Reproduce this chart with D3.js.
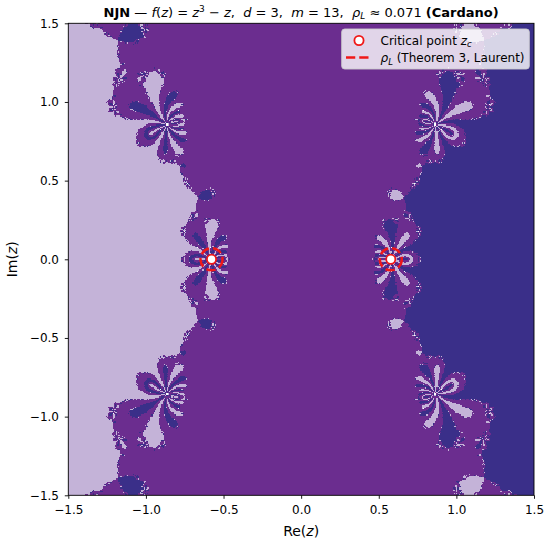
<!DOCTYPE html>
<html>
<head>
<meta charset="utf-8">
<script src="https://cdn.jsdelivr.net/npm/d3@7/dist/d3.min.js"></script>
<style>
  html, body { margin: 0; padding: 0; background: #ffffff; }
  svg { display: block; }
  text { font-family: "DejaVu Sans", sans-serif; }
</style>
</head>
<body>
<svg id="chart" width="550" height="541"></svg>
<script>
// ---------------- data ----------------
const domainRe = [-1.5, 1.5];
const domainIm = [-1.5, 1.5];
const roots = [[-1, 0], [0, 0], [1, 0]];              // zeros of f(z) = z^3 - z
const rootColors = ["#c4b3d8", "#6b2d8f", "#3a2f89"]; // basin colours
const noConvergenceColor = "#ffffff";
const criticalPoints = [[-0.57735, 0], [0.57735, 0]]; // z_c : f'(z_c) = 0
const rhoL = 0.071;                                   // Laurent radius
const derivBlend = 0.93;                              // weight of f'(y) in the last sub-step
const xTicks = [-1.5, -1.0, -0.5, 0.0, 0.5, 1.0, 1.5];
const yTicks = [-1.5, -1.0, -0.5, 0.0, 0.5, 1.0, 1.5];
const gridSize = 420;
const maxIter = 40;
const tol = 1e-6;
const legendLabels = ["Critical point ", "(Theorem 3, Laurent)"];

// ---------------- layout ----------------
const plot = { left: 68.3, right: 534, top: 23.3, bottom: 495.3 };
const svg = d3.select("#chart");
const x = d3.scaleLinear().domain(domainRe).range([plot.left, plot.right]);
const y = d3.scaleLinear().domain(domainIm).range([plot.bottom, plot.top]);

// ---------------- basin computation (three sub-steps) ----------------
function fEval(r, i) {
  const r2 = r * r - i * i, i2 = 2 * r * i;
  return [r2 * r - i2 * i - r, r2 * i + i2 * r - i];
}
function basin(zr, zi) {
  for (let k = 0; k < maxIter; k++) {
    const r2 = zr * zr - zi * zi, i2 = 2 * zr * zi;
    const dr = 3 * r2 - 1, di = 3 * i2;
    const den = dr * dr + di * di;
    if (!(den > 0)) return -1;
    let f = fEval(zr, zi);
    const yr = zr - (f[0] * dr + f[1] * di) / den;
    const yi = zi - (f[1] * dr - f[0] * di) / den;
    f = fEval(yr, yi);
    const wr = yr - (f[0] * dr + f[1] * di) / den;
    const wi = yi - (f[1] * dr - f[0] * di) / den;
    // blended derivative for the last sub-step
    const yr2 = yr * yr - yi * yi, yi2 = 2 * yr * yi;
    const er = (1 - derivBlend) * dr + derivBlend * (3 * yr2 - 1);
    const ei = (1 - derivBlend) * di + derivBlend * (3 * yi2);
    const den2 = er * er + ei * ei;
    if (!(den2 > 0)) return -1;
    f = fEval(wr, wi);
    zr = wr - (f[0] * er + f[1] * ei) / den2;
    zi = wi - (f[1] * er - f[0] * ei) / den2;
    if (!isFinite(zr) || !isFinite(zi)) return -1;
    for (let j = 0; j < roots.length; j++) {
      const ar = zr - roots[j][0], ai = zi - roots[j][1];
      if (ar * ar + ai * ai < tol * tol) return j;
    }
  }
  return -1;
}

const cellRe = d3.scaleLinear().domain([0, gridSize]).range(domainRe);
const cellIm = d3.scaleLinear().domain([0, gridSize]).range([domainIm[1], domainIm[0]]);
const canvas = document.createElement("canvas");
canvas.width = gridSize; canvas.height = gridSize;
const ctx = canvas.getContext("2d");
const img = ctx.createImageData(gridSize, gridSize);
const rgb = rootColors.map(c => d3.rgb(c));
const rgbNC = d3.rgb(noConvergenceColor);
for (let row = 0; row < gridSize; row++) {
  const im = cellIm(row + 0.5);
  for (let col = 0; col < gridSize; col++) {
    const re = cellRe(col + 0.5);
    const b = basin(re, im);
    const c = b >= 0 ? rgb[b] : rgbNC;
    const p = 4 * (row * gridSize + col);
    img.data[p] = c.r; img.data[p + 1] = c.g; img.data[p + 2] = c.b; img.data[p + 3] = 255;
  }
}
ctx.putImageData(img, 0, 0);

svg.append("image")
  .attr("x", x(domainRe[0])).attr("y", y(domainIm[1]))
  .attr("width", x(domainRe[1]) - x(domainRe[0]))
  .attr("height", y(domainIm[0]) - y(domainIm[1]))
  .attr("preserveAspectRatio", "none")
  .style("image-rendering", "pixelated")
  .attr("href", canvas.toDataURL());

// ---------------- critical points & Laurent circles ----------------
const red = "#f01818";
svg.selectAll("circle.rho").data(criticalPoints).join("circle")
  .attr("class", "rho")
  .attr("cx", d => x(d[0])).attr("cy", d => y(d[1]))
  .attr("r", x(rhoL) - x(0))
  .attr("fill", "none").attr("stroke", red).attr("stroke-width", 2.5)
  .attr("stroke-dasharray", "9.25,4");
svg.selectAll("circle.zc").data(criticalPoints).join("circle")
  .attr("class", "zc")
  .attr("cx", d => x(d[0])).attr("cy", d => y(d[1]))
  .attr("r", 4.6)
  .attr("fill", "#ffffff").attr("stroke", red).attr("stroke-width", 1.8);

// ---------------- axes ----------------
const fmt = d3.format(".1f");
const xAxis = svg.append("g").attr("transform", `translate(0,${plot.bottom})`)
  .call(d3.axisBottom(x).tickValues(xTicks).tickFormat(fmt).tickSize(3.5).tickPadding(7).tickSizeOuter(0));
const yAxis = svg.append("g").attr("transform", `translate(${plot.left},0)`)
  .call(d3.axisLeft(y).tickValues(yTicks).tickFormat(fmt).tickSize(3.5).tickPadding(5.8).tickSizeOuter(0));
[xAxis, yAxis].forEach(g => {
  g.select(".domain").remove();
  g.selectAll("text").attr("font-size", 12).attr("font-family", "DejaVu Sans").attr("fill", "#000");
  g.selectAll("line").attr("stroke", "#000").attr("stroke-width", 0.9);
});
svg.append("rect")
  .attr("x", plot.left).attr("y", plot.top)
  .attr("width", plot.right - plot.left).attr("height", plot.bottom - plot.top)
  .attr("fill", "none").attr("stroke", "#000").attr("stroke-width", 0.9);

const xl = svg.append("text").attr("x", (plot.left + plot.right) / 2).attr("y", 535.5)
  .attr("text-anchor", "middle").attr("font-size", 14);
xl.append("tspan").text("Re(");
xl.append("tspan").attr("font-style", "italic").text("z");
xl.append("tspan").text(")");
const yl = svg.append("text").attr("transform", `translate(17,${(plot.top + plot.bottom) / 2}) rotate(-90)`)
  .attr("text-anchor", "middle").attr("font-size", 14);
yl.append("tspan").text("Im(");
yl.append("tspan").attr("font-style", "italic").text("z");
yl.append("tspan").text(")");

// ---------------- title ----------------
const title = svg.append("text").attr("x", (plot.left + plot.right) / 2).attr("y", 16.5)
  .attr("text-anchor", "middle").attr("font-size", 13).style("white-space", "pre");
const parts = [
  ["NJN", "b"], [" \u2014 ", ""], ["f", "i"], ["(", ""], ["z", "i"], [") = ", ""], ["z", "i"], ["3", "sup"],
  [" \u2212 ", "r"], ["z", "i"], [",  ", ""], ["d", "i"], [" = 3,  ", ""], ["m", "i"], [" = 13,  ", ""],
  ["\u03c1", "i"], ["L", "sub"], [" \u2248 0.071 ", "r2"], ["(Cardano)", "b"]
];
parts.forEach(([t, s]) => {
  const ts = title.append("tspan").text(t);
  if (s === "b") ts.attr("font-weight", "bold");
  if (s === "i") ts.attr("font-style", "italic");
  if (s === "sup") ts.attr("font-size", 9).attr("dy", -5);
  if (s === "r") ts.attr("dy", 5);
  if (s === "sub") ts.attr("font-size", 9).attr("font-style", "italic").attr("dy", 2.5);
  if (s === "r2") ts.attr("dy", -2.5);
});

// ---------------- legend ----------------
const lg = svg.append("g");
lg.append("rect").attr("x", 341.7).attr("y", 29).attr("width", 187.6).attr("height", 40)
  .attr("rx", 3).attr("fill", "#ffffff").attr("fill-opacity", 0.8)
  .attr("stroke", "#cccccc").attr("stroke-width", 0.9);
lg.append("circle").attr("cx", 359).attr("cy", 40.5).attr("r", 4.6)
  .attr("fill", "#ffffff").attr("stroke", red).attr("stroke-width", 1.8);
lg.append("line").attr("x1", 346).attr("x2", 372).attr("y1", 57.5).attr("y2", 57.5)
  .attr("stroke", red).attr("stroke-width", 2.5).attr("stroke-dasharray", "9.25,4");
const t1 = lg.append("text").attr("x", 380.5).attr("y", 44.5).attr("font-size", 12).style("white-space", "pre");
t1.append("tspan").text(legendLabels[0]);
t1.append("tspan").attr("font-style", "italic").text("z");
t1.append("tspan").attr("font-style", "italic").attr("font-size", 8.5).attr("dy", 2.5).text("c");
const t2 = lg.append("text").attr("x", 380.5).attr("y", 62).attr("font-size", 12).style("white-space", "pre");
t2.append("tspan").attr("font-style", "italic").text("\u03c1");
t2.append("tspan").attr("font-style", "italic").attr("font-size", 8.5).attr("dy", 2.5).text("L");
t2.append("tspan").attr("dy", -2.5).text(" " + legendLabels[1]);
</script>
</body>
</html>
